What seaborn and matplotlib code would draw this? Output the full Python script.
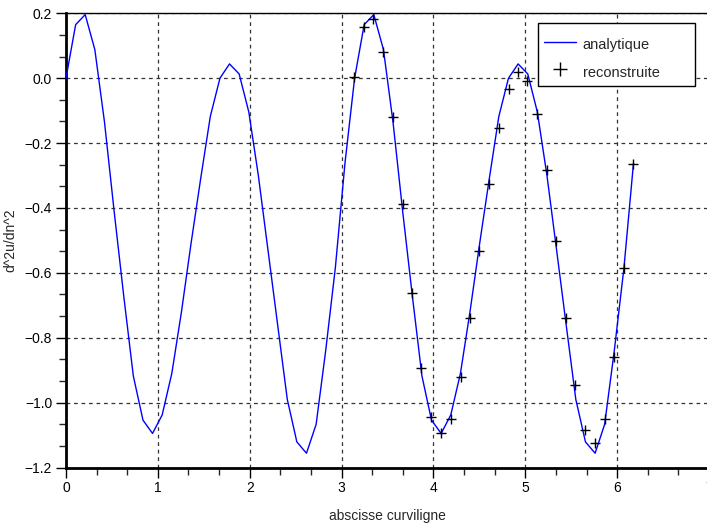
import matplotlib
matplotlib.use("Agg")
import matplotlib.pyplot as plt
from matplotlib.lines import Line2D
from matplotlib.patches import Rectangle
from matplotlib.ticker import AutoMinorLocator
import seaborn as sns
import pandas as pd

# analytic curve samples
x_line = [0.000, 0.105, 0.209, 0.314, 0.419, 0.524, 0.628, 0.733, 0.838, 0.942,
          1.047, 1.152, 1.257, 1.361, 1.466, 1.571, 1.676, 1.780, 1.885, 1.990,
          2.094, 2.199, 2.304, 2.409, 2.513, 2.618, 2.723, 2.827, 2.932, 3.037,
          3.142, 3.246, 3.351, 3.456, 3.560, 3.665, 3.770, 3.875, 3.979, 4.084,
          4.189, 4.294, 4.398, 4.503, 4.608, 4.712, 4.817, 4.922, 5.027, 5.131,
          5.236, 5.341, 5.445, 5.550, 5.655, 5.760, 5.864, 5.969, 6.074, 6.178]
y_line = [0.000, 0.165, 0.196, 0.088, -0.135, -0.41, -0.67, -0.918, -1.054, -1.095,
          -1.038, -0.910, -0.72, -0.51, -0.31, -0.118, 0.000, 0.044, 0.013, -0.104,
          -0.30, -0.53, -0.76, -0.99, -1.121, -1.156, -1.067, -0.84, -0.585, -0.262,
          0.000, 0.165, 0.196, 0.088, -0.135, -0.41, -0.67, -0.918, -1.054, -1.095,
          -1.038, -0.910, -0.72, -0.51, -0.31, -0.118, 0.000, 0.044, 0.013, -0.104,
          -0.30, -0.53, -0.76, -0.99, -1.121, -1.156, -1.067, -0.84, -0.585, -0.262]

# reconstructed points
x_rec = [3.134, 3.243, 3.344, 3.453, 3.555, 3.664, 3.765, 3.870, 3.979, 4.084,
         4.189, 4.295, 4.396, 4.497, 4.606, 4.715, 4.820, 4.926, 5.024, 5.129,
         5.234, 5.339, 5.441, 5.546, 5.655, 5.764, 5.865, 5.966, 6.072, 6.173]
y_rec = [0.003, 0.159, 0.182, 0.082, -0.121, -0.389, -0.663, -0.894, -1.044, -1.095,
         -1.051, -0.922, -0.740, -0.532, -0.327, -0.153, -0.032, 0.019, -0.008, -0.111,
         -0.283, -0.502, -0.738, -0.946, -1.085, -1.124, -1.051, -0.859, -0.586, -0.265]

x_ticks = [0, 1, 2, 3, 4, 5, 6, 7]
y_ticks = [-1.2, -1.0, -0.8, -0.6, -0.4, -0.2, 0.0, 0.2]
legend_labels = ["analytique", "reconstruite"]

sns.set_style("white")
plt.rcParams['font.family'] = ['Liberation Sans', 'DejaVu Sans']
plt.rcParams['axes.unicode_minus'] = True

fig = plt.figure(figsize=(7.07, 5.27), dpi=100)
AX_L, AX_R, AX_T, AX_B = 66.0, 709.0, 13.3, 467.5
ax_w = (AX_R - AX_L) / 707
ax_h = (AX_B - AX_T) / 527
ax = fig.add_axes([AX_L/707, 1 - AX_B/527, ax_w, ax_h])

df_line = pd.DataFrame({"x": x_line, "y": y_line})
df_rec = pd.DataFrame({"x": x_rec, "y": y_rec})

sns.lineplot(data=df_line, x="x", y="y", ax=ax, color="#0000ff", lw=1.0,
             sort=False, estimator=None, zorder=3)
sns.scatterplot(data=df_rec, x="x", y="y", ax=ax, marker="+", color="black",
                s=50, linewidth=1.0, zorder=4)

ax.set_xlim(0, 7)
ax.set_ylim(-1.2, 0.2)
ax.set_xticks(x_ticks)
ax.set_yticks(y_ticks)
ax.set_xticklabels([str(t) for t in x_ticks])
ax.set_yticklabels([f"{t:.1f}".replace("-", "\u2212") for t in y_ticks])
ax.xaxis.set_minor_locator(AutoMinorLocator(3))
ax.yaxis.set_minor_locator(AutoMinorLocator(3))
ax.tick_params(axis="both", which="major", direction="out", length=7, width=1,
               labelsize=10, colors="black", pad=3, bottom=True, left=True)
ax.tick_params(axis="both", which="minor", direction="out", length=5, width=1,
               bottom=True, left=True)

ax.grid(True, which="major", color="#333333", linestyle=(0, (3, 3)), linewidth=0.9)
ax.set_axisbelow(True)
for side in ["top", "right"]:
    ax.spines[side].set_linewidth(1.0)
    ax.spines[side].set_color("black")
for side in ["left", "bottom"]:
    ax.spines[side].set_linewidth(2.0)
    ax.spines[side].set_color("black")

ax.set_xlabel("abscisse curviligne", fontsize=10, labelpad=10)
ax.set_ylabel("d^2u/dn^2", fontsize=10, labelpad=5)

# legend frame (drawn separately to match the reference box proportions)
def px_to_ax(px, py):
    return (px - AX_L) / (AX_R - AX_L), 1 - (py - AX_T) / (AX_B - AX_T)

bx0, by1 = px_to_ax(537.7, 23.0)
bx1, by0 = px_to_ax(695.3, 85.7)
frame = Rectangle((bx0, by0), bx1 - bx0, by1 - by0, transform=ax.transAxes,
                  facecolor="white", edgecolor="black", linewidth=1.0,
                  zorder=5, clip_on=False)
ax.add_patch(frame)

handles = [Line2D([0], [0], color="#0000ff", lw=1.0),
           Line2D([0], [0], color="black", marker="+", linestyle="none",
                  markersize=9.5, markeredgewidth=1.0)]
hx, hy = px_to_ax(544.0, 58.4)
leg = ax.legend(handles, legend_labels,
                loc="center left", bbox_to_anchor=(hx, hy),
                fontsize=10.5, frameon=False, borderpad=0.0, labelspacing=0.42,
                handlelength=2.2, handleheight=1.85, handletextpad=0.45,
                borderaxespad=0)
leg.set_zorder(6)

fig.savefig("out.png", dpi=100)
